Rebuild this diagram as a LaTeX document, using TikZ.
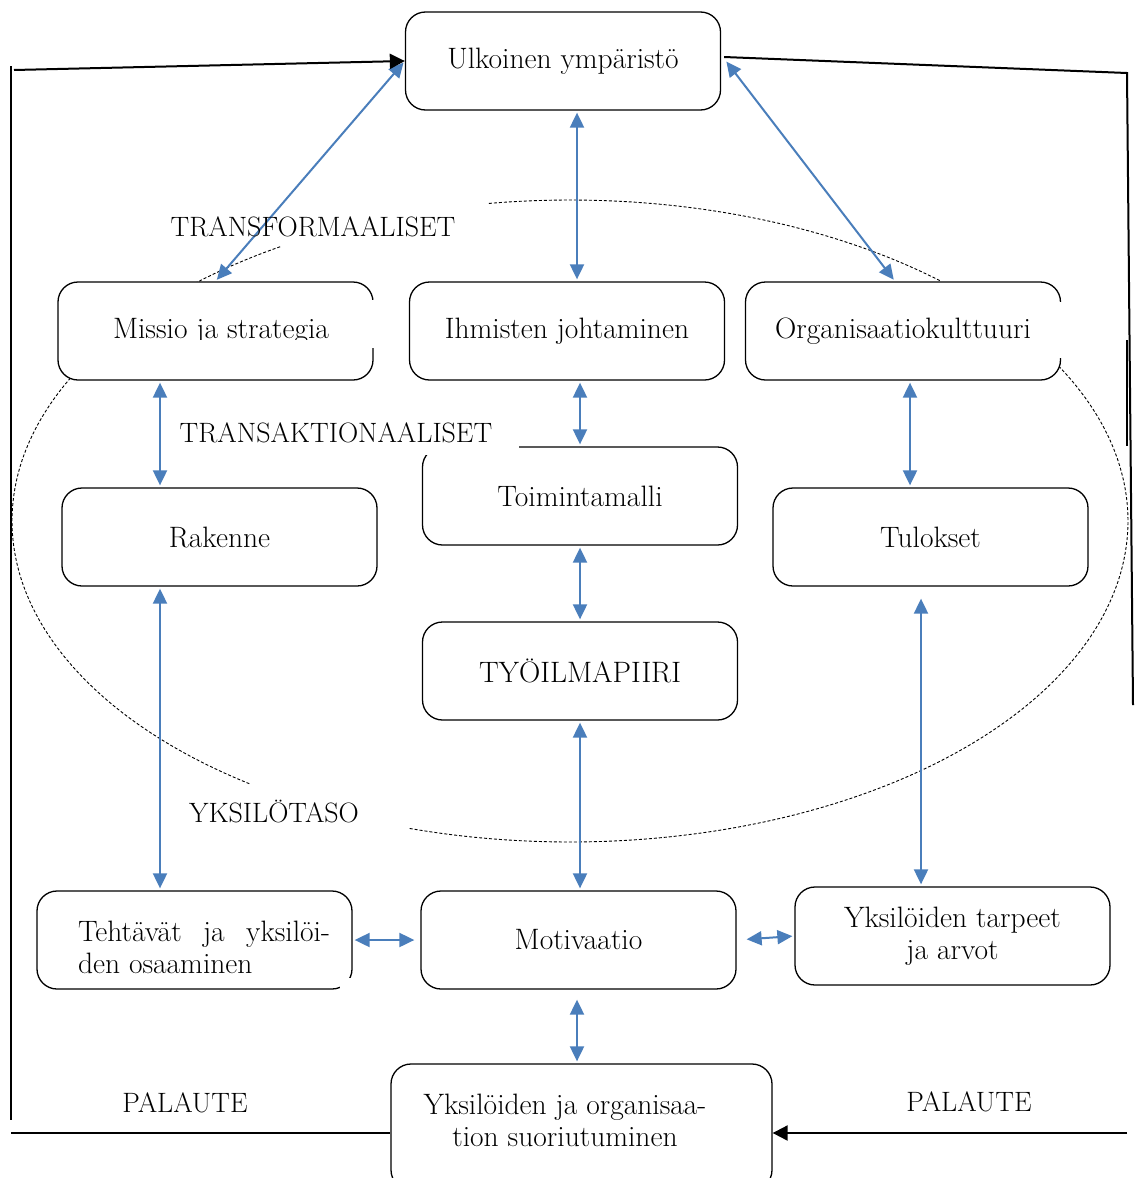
\documentclass[tikz,border=0pt]{standalone}
\usepackage{fontspec}
\usetikzlibrary{arrows.meta}
\definecolor{linkblue}{RGB}{74,126,187}
\begin{document}
\begin{tikzpicture}[x=1pt,y=-1pt,
  box/.style={draw=black, line width=1.3pt, rounded corners=20pt, fill=white,
    minimum width=315pt, minimum height=98pt, inner sep=0pt, align=center,
    font=\fontsize{29.5}{32}\selectfont},
  txt/.style={inner sep=0pt, align=center, font=\fontsize{29.5}{32}\selectfont},
  txtpar/.style={inner sep=0pt, font=\fontsize{29.5}{32}\selectfont},
  lbl/.style={inner sep=0pt, font=\fontsize{28}{32}\selectfont},
  bi/.style={draw=linkblue, line width=2pt,
    {Triangle[length=15pt,width=14pt]}-{Triangle[length=15pt,width=14pt]},
    shorten <=2pt, shorten >=2pt},
  fb/.style={draw=black, line width=2pt},
  fbarrow/.style={fb, -{Triangle[length=15pt,width=15pt]}},
  zone/.style={draw=black, line width=0.9pt, dash pattern=on 3pt off 2pt}
]
\path[use as bounding box, clip] (0,0) rectangle (1135,1178);

% dashed zone boundary (ellipse, interrupted at the labels)
\draw[zone] plot[domain=48.5:98.5, samples=60]  ({570+558*cos(\x)},{521-321*sin(\x)});
\draw[zone] plot[domain=121.3:235, samples=120] ({570+558*cos(\x)},{521-321*sin(\x)});
\draw[zone] plot[domain=253.3:392, samples=150] ({570+558*cos(\x)},{521-321*sin(\x)});

% boxes
\node[box] (ulk)  at (563,61)    {Ulkoinen ympäristö};
\node[box] (miss) at (215.5,331) {};
\node[box] (ihm)  at (567,331)   {Ihmisten johtaminen};
\node[box] (org)  at (903,331)   {Organisaatiokulttuuri};
\node[box] (rak)  at (219.5,537) {Rakenne};
\node[box] (toim) at (580,496)   {Toimintamalli};
\node[box] (tul)  at (930.5,537) {Tulokset};
\node[box] (tyo)  at (580,671)   {TYÖILMAPIIRI};
\node[box] (teh)  at (194.5,940) {};
\node[box] (mot)  at (578.5,940) {Motivaatio};
\node[box] (tarp) at (952.5,936) {Yksilöiden tarpeet\\ja arvot};
\node[box, minimum width=381pt, minimum height=126pt] (suor) at (581.5,1127) {};

% broken outline pieces
\fill[white] (370,300) rectangle (376,348);
\fill[white] (1057,302) rectangle (1063,358);
\fill[white] (418,444) rectangle (519,454.5);
\fill[white] (340,978) rectangle (356,993);

% box texts placed apart from their frames
\begin{scope}
  \clip (60,284) rectangle (371,339.5);
  \node[txt] (missT) at (221,331) {Missio ja strategia};
\end{scope}
\node[txtpar] (tehT) at (204,947) {\parbox{252pt}{Tehtävät\hfill ja\hfill yksilöi-\\den osaaminen}};
\node[txt] (suorT) at (565,1120) {Yksilöiden ja organisaa-\\tion suoriutuminen};

% columns of the vertical links
\coordinate (cA) at (160,0);
\coordinate (cB) at (577,0);
\coordinate (cC) at (580,0);
\coordinate (cD) at (910,0);
\coordinate (cE) at (921,0);

% two-way links
\draw[bi] (miss.north) -- (ulk.west);
\draw[bi] (ulk.south -| cB) -- (ihm.north -| cB);
\draw[bi] ([shift={(4,-1)}]ulk.east) -- ([xshift=-8]org.north);
\draw[bi] (miss.south -| cA) -- (rak.north -| cA);
\draw[bi] (ihm.south -| cC) -- (toim.north -| cC);
\draw[bi] (org.south -| cD) -- (tul.north -| cD);
\draw[bi] (toim.south -| cC) -- (tyo.north -| cC);
\draw[bi] (rak.south -| cA) -- (teh.north -| cA);
\draw[bi] (tyo.south -| cC) -- (mot.north -| cC);
\draw[bi, shorten <=12pt] (tul.south -| cE) -- (tarp.north -| cE);
\draw[bi, shorten >=6pt] (teh.east) -- (mot.west);
\draw[bi, shorten <=10pt] (mot.east) -- (tarp.west);
\draw[bi, shorten <=10pt] (mot.south -| cB) -- (suor.north -| cB);

% feedback loop
\coordinate (lt) at (14,70);
\coordinate (ltop) at (11,66);
\coordinate (lbot) at (11,1120);
\coordinate (lb) at (11,1133);
\coordinate (rt) at (1127,73);
\coordinate (rv) at (1133,705);
\coordinate (rs1) at (1127,340);
\coordinate (rs2) at (1127,446);
\coordinate (rb) at (1127,1133);
\draw[fb] (ltop) -- (lbot);
\draw[fbarrow] (lt) -- (ulk.west);
\draw[fb] (lb) -- (lb -| suor.west);
\draw[fb] ([shift={(3,-4)}]ulk.east) -- (rt) -- (rv);
\draw[fb] (rs1) -- (rs2);
\draw[fbarrow] (rb) -- (rb -| suor.east);

% labels
\node[lbl] (transf) at (313,227)  {TRANSFORMAALISET};
\node[lbl] (transa) at (336,433)  {TRANSAKTIONAALISET};
\node[lbl] (yks)    at (274,812)  {YKSILÖTASO};
\node[lbl] (palL)   at (185,1103) {PALAUTE};
\node[lbl] (palR)   at (969,1102) {PALAUTE};
\end{tikzpicture}
\end{document}
